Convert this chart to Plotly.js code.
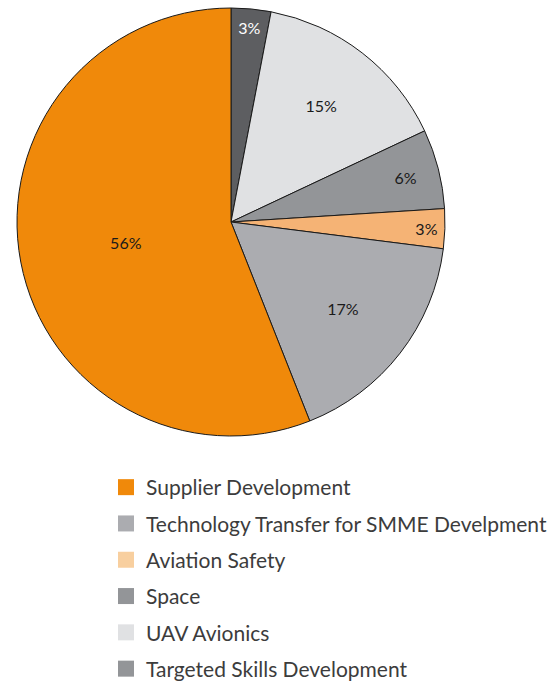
<!DOCTYPE html>
<html>
<head>
<meta charset="utf-8">
<script src="https://cdn.plot.ly/plotly-3.0.1.min.js"></script>
<style>html,body{margin:0;padding:0;background:#fff;}#chart{width:558px;height:681px;}</style>
</head>
<body>
<div id="chart"></div>
<script>
const labels = ["Supplier Development", "Technology Transfer for SMME Develpment", "Aviation Safety", "Space", "UAV Avionics", "Targeted Skills Development"];
const values = [56, 17, 3, 6, 15, 3];
const colors = ["#F0890A", "#ABACB0", "#F5B375", "#939598", "#E0E1E3", "#5D5E61"];
const legendColors = ["#F0890A", "#ABACB0", "#F8CF9F", "#939598", "#E0E1E3", "#939598"];
const textColors = ["#1a1a1a", "#1a1a1a", "#1a1a1a", "#1a1a1a", "#1a1a1a", "#ffffff"];

const W = 558, H = 681;
// slices go clockwise from 12 o'clock in reverse legend order
const rev = a => a.slice().reverse();
const pie = {
  type: "pie",
  labels: rev(labels),
  values: rev(values),
  sort: false,
  direction: "clockwise",
  rotation: 0,
  marker: {colors: rev(colors), line: {color: "#1a1a1a", width: 1}},
  textinfo: "percent",
  textposition: "inside",
  insidetextorientation: "horizontal",
  textfont: {family: "Lato, sans-serif", size: 16, color: rev(textColors)},
  hoverinfo: "label+percent",
  showlegend: false,
  domain: {x: [17 / W, 445 / W], y: [1 - 436 / H, 1 - 8 / H]}
};

const legendTraces = labels.map((lab, i) => ({
  type: "scatter",
  mode: "markers",
  x: [null], y: [null],
  name: lab,
  legendgroup: "g" + i,
  showlegend: true,
  marker: {symbol: "square", size: 16, color: legendColors[i], line: {width: 0}},
  hoverinfo: "skip"
}));

const layout = {
  width: W, height: H,
  margin: {l: 0, r: 0, t: 0, b: 0, autoexpand: false},
  paper_bgcolor: "#ffffff",
  plot_bgcolor: "rgba(0,0,0,0)",
  xaxis: {visible: false},
  yaxis: {visible: false},
  showlegend: true,
  legend: {
    x: 106 / W, xanchor: "left",
    y: 1 - 467 / H, yanchor: "top",
    font: {family: "Lato, sans-serif", size: 21, color: "#3c3c3c"},
    tracegroupgap: 6,
    itemclick: false
  }
};

Plotly.newPlot("chart", [pie].concat(legendTraces), layout, {displayModeBar: false, staticPlot: true});
</script>
</body>
</html>
